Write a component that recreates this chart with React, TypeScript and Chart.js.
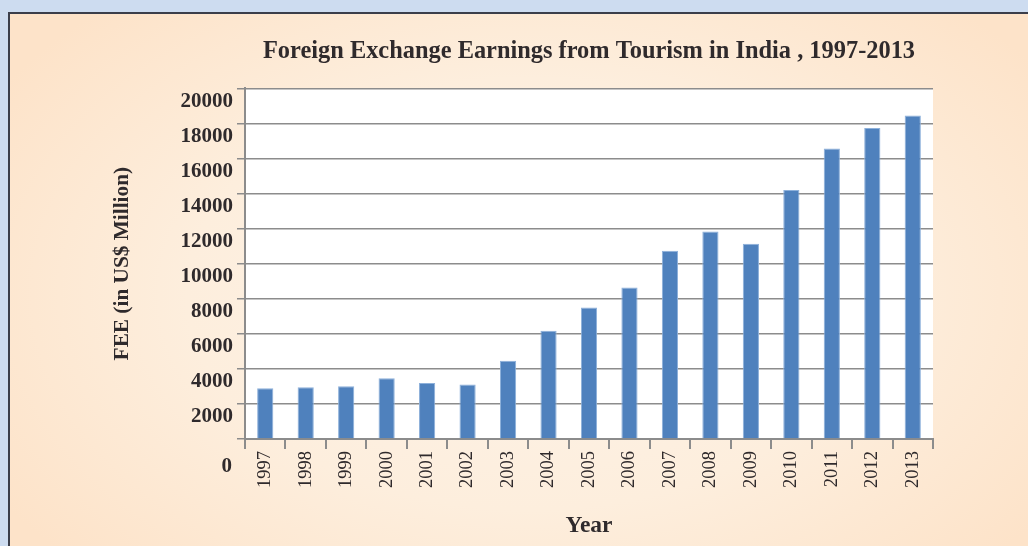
import React, { useEffect, useRef } from "react";
import { Chart, registerables } from "chart.js";

Chart.register(...registerables);

const years = ["1997", "1998", "1999", "2000", "2001", "2002", "2003", "2004", "2005", "2006", "2007", "2008", "2009", "2010", "2011", "2012", "2013"];
const feeValues = [2889, 2948, 3009, 3460, 3198, 3103, 4463, 6170, 7493, 8634, 10729, 11832, 11136, 14193, 16564, 17737, 18445];
const yMin = 0;
const yMax = 20000;
const yStep = 2000;
const chartTitle = "Foreign Exchange Earnings from Tourism in India , 1997-2013";
const xAxisTitle = "Year";
const yAxisTitle = "FEE (in US$ Million)";

const FONT = '"Liberation Serif", "Times New Roman", serif';
const TEXT = "#2f2a2c";
const GRID = "#8c8c8c";

const plotBg = {
  id: "plotBg",
  beforeDraw(chart: any) {
    const { ctx, chartArea } = chart;
    ctx.save();
    ctx.fillStyle = "#ffffff";
    ctx.fillRect(chartArea.left, chartArea.top, chartArea.right - chartArea.left, chartArea.bottom - chartArea.top);
    ctx.restore();
  },
};

const zeroLabel = {
  id: "zeroLabel",
  afterDraw(chart: any) {
    const { ctx } = chart;
    const y = chart.scales.y;
    const py = y.getPixelForValue(yMin) + 28;
    ctx.save();
    ctx.font = `bold 21px ${FONT}`;
    ctx.fillStyle = TEXT;
    ctx.textAlign = "right";
    ctx.textBaseline = "middle";
    ctx.fillText(String(yMin), y.right - 13, py);
    ctx.restore();
  },
};

export default function App() {
  const ref = useRef<HTMLCanvasElement>(null);

  useEffect(() => {
    document.body.style.margin = "0";
    const chart = new Chart(ref.current!, {
      type: "bar",
      data: {
        labels: years,
        datasets: [
          {
            data: feeValues,
            backgroundColor: "#4f81bd",
            borderColor: "#8db0da",
            borderWidth: 1,
            barPercentage: 0.4,
            categoryPercentage: 1,
          },
        ],
      },
      options: {
        animation: false,
        responsive: false,
        layout: { padding: { left: 0, right: 95, top: 0, bottom: 0 } },
        plugins: {
          legend: { display: false },
          tooltip: { enabled: false },
          title: {
            display: true,
            text: chartTitle,
            fullSize: false,
            color: TEXT,
            font: { family: FONT, size: 24.4, weight: "bold" },
            padding: { top: 37, bottom: 22 },
          },
        },
        scales: {
          x: {
            afterFit(scale: any) {
              scale.height = 107;
            },
            grid: {
              offset: true,
              drawOnChartArea: false,
              drawTicks: true,
              tickLength: 10,
              color: GRID,
              lineWidth: 2,
            },
            border: { display: true, color: GRID, width: 2 },
            ticks: {
              minRotation: 90,
              maxRotation: 90,
              padding: 2,
              color: TEXT,
              font: { family: FONT, size: 18.5 },
            },
            title: {
              display: true,
              text: xAxisTitle,
              color: TEXT,
              font: { family: FONT, size: 23.5, weight: "bold" },
              padding: { top: 0, bottom: 6 },
            },
          },
          y: {
            min: yMin,
            max: yMax,
            afterFit(scale: any) {
              scale.width = 245;
            },
            grid: {
              color: GRID,
              lineWidth: 1.5,
              tickLength: 8,
            },
            border: { display: true, color: GRID, width: 2 },
            ticks: {
              stepSize: yStep,
              padding: 4,
              labelOffset: 13,
              color: TEXT,
              font: { family: FONT, size: 21, weight: "bold" },
              callback: (v: any) => (v === yMin ? "" : String(v)),
            },
            title: {
              display: true,
              text: yAxisTitle,
              color: TEXT,
              font: { family: FONT, size: 21.3, weight: "bold" },
              padding: { top: 110, bottom: 0 },
            },
          },
        },
      },
      plugins: [plotBg, zeroLabel],
    });
    return () => chart.destroy();
  }, []);

  return (
    <div style={{ position: "fixed", left: 0, top: 0, width: 1028, height: 546, background: "#cddcf0", overflow: "hidden" }}>
      <div
        style={{
          position: "absolute",
          left: 8,
          top: 12,
          width: 1040,
          height: 560,
          borderTop: "2px solid #3b3e4a",
          borderLeft: "2px solid #3b3e4a",
          background: "radial-gradient(ellipse 60% 70% at 50% 50%, #fdf3e8 0%, #fdeedd 55%, #fde3c9 100%)",
        }}
      />
      <canvas ref={ref} width={1028} height={546} style={{ position: "absolute", left: 0, top: 0 }} />
    </div>
  );
}
